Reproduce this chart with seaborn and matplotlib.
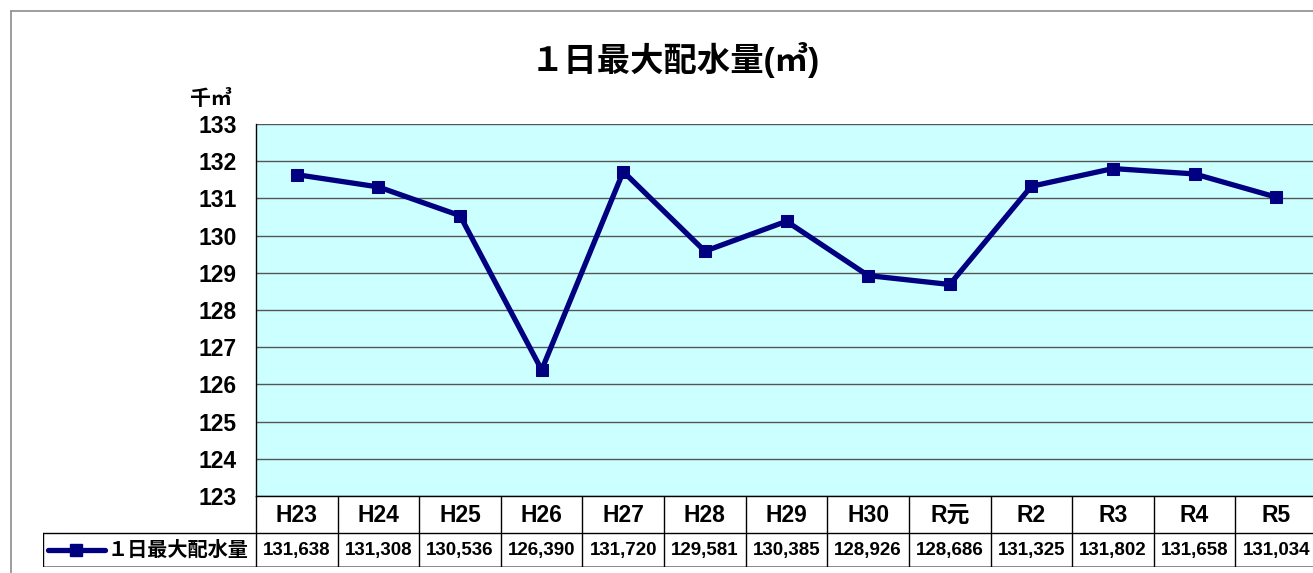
import matplotlib

matplotlib.use("Agg")
import matplotlib.pyplot as plt
import pandas as pd
import seaborn as sns
from matplotlib.lines import Line2D

# data
years = ["H23", "H24", "H25", "H26", "H27", "H28", "H29", "H30", "R元", "R2", "R3", "R4", "R5"]
max_supply = [131638, 131308, 130536, 126390, 131720, 129581, 130385, 128926, 128686, 131325, 131802, 131658, 131034]
series_name = "１日最大配水量"
title = "１日最大配水量(㎥)"
unit_label = "千㎥"
y_ticks = list(range(123, 134))

sns.set_theme(style="white")
plt.rcParams["font.family"] = ["Liberation Sans", "Noto Sans CJK JP"]
plt.rcParams["font.weight"] = "bold"
plt.rcParams["text.color"] = "black"
plt.rcParams["ytick.color"] = "black"
plt.rcParams["ytick.labelcolor"] = "black"

NAVY = "#000080"
W, H = 1313, 573

df = pd.DataFrame({"pos": range(len(years)), "value": [v / 1000 for v in max_supply]})

fig = plt.figure(figsize=(W / 100, H / 100), dpi=100)

# outer chart frame
fig.add_artist(Line2D([11 / W, 1], [1 - 11 / H, 1 - 11 / H], color="#8c8c8c", lw=1.2))
fig.add_artist(Line2D([11 / W, 11 / W], [0, 1 - 11 / H], color="#8c8c8c", lw=1.2))

ax = fig.add_axes([256 / W, 1 - 496 / H, 1061 / W, 372 / H])
ax.set_facecolor("#ccffff")
sns.lineplot(data=df, x="pos", y="value", ax=ax, color=NAVY, lw=3.8,
             marker="s", markersize=9, markeredgecolor=NAVY, zorder=3)
ax.set_xlim(-0.5, len(years) - 0.5)
ax.set_ylim(y_ticks[0], y_ticks[-1])
ax.set_yticks(y_ticks)
ax.set_yticklabels([str(t) for t in y_ticks], fontsize=16.5, fontweight="bold")
ax.set_xticks([])
ax.set_xlabel("")
ax.set_ylabel("")
ax.grid(axis="y", color="#555555", lw=1)
ax.tick_params(axis="y", direction="in", length=6, width=1, color="#333333", pad=14)
for s in ["top", "right"]:
    ax.spines[s].set_visible(False)
for s in ["left", "bottom"]:
    ax.spines[s].set_color("black")
    ax.spines[s].set_linewidth(1)

fig.text(675 / W, 1 - 60 / H, title, ha="center", va="center", fontsize=24, fontweight="bold")
fig.text(211 / W, 1 - 99 / H, unit_label, ha="center", va="center", fontsize=15, fontweight="bold")

# data table below the chart
cell = 81.6
lead = 213 / cell
tx = fig.add_axes([43 / W, 1 - 567 / H, 1274 / W, 71 / H])
tx.set_xlim(-0.5 - lead, len(years) - 0.5)
tx.set_ylim(0, 71)
tx.axis("off")
n = len(years)
tx.plot([-0.5 - lead, n - 0.5], [34, 34], color="black", lw=1)
tx.plot([-0.5 - lead, n - 0.5], [0.5, 0.5], color="#777777", lw=1.2)
tx.plot([-0.5 - lead, -0.5 - lead], [0, 34], color="black", lw=1)
for k in range(n + 1):
    tx.plot([k - 0.5, k - 0.5], [0, 71], color="black", lw=1)
for i, (lab, v) in enumerate(zip(years, max_supply)):
    tx.text(i, 52, lab, ha="center", va="center", fontsize=16.5, fontweight="bold")
    tx.text(i, 17, f"{v:,}", ha="center", va="center", fontsize=13.5, fontweight="bold")

# legend key inside the row label cell
x0 = -0.5 - lead + 5 / cell
tx.plot([x0, x0 + 57 / cell], [17, 17], color=NAVY, lw=3.8)
tx.plot([x0 + 28 / cell], [17], color=NAVY, marker="s", markersize=8)
tx.text(x0 + 60 / cell, 17, series_name, ha="left", va="center", fontsize=14.5, fontweight="bold")

fig.savefig("out.png", dpi=100)
